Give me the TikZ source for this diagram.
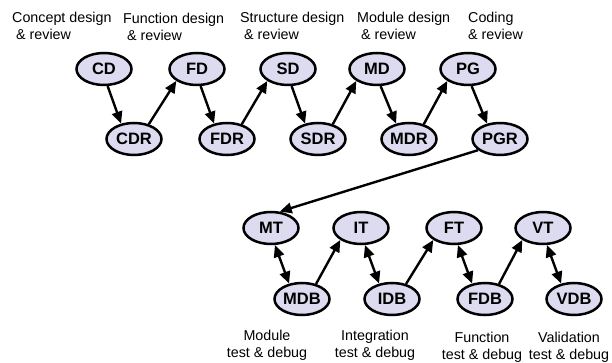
\documentclass[tikz,border=0pt]{standalone}
\usepackage{fontspec}
\setmainfont{Liberation Sans}
\usetikzlibrary{shapes.geometric,arrows.meta}
\definecolor{nodefill}{RGB}{221,219,240}
\begin{document}
\begin{tikzpicture}[x=1pt,y=-1pt,
  st/.style={ellipse,draw=black,fill=nodefill,line width=2.5pt,minimum width=55pt,minimum height=32pt,inner sep=0pt,font=\fontsize{16.5}{18}\selectfont\bfseries},
  lbl/.style={inner sep=0pt,font=\fontsize{14.3}{16.5}\selectfont},
  arr/.style={line width=2.4pt,-{Triangle[length=12pt,width=10.5pt]}},
  darr/.style={line width=2.4pt,{Triangle[length=12pt,width=10.5pt]}-{Triangle[length=12pt,width=10.5pt]}}]
\useasboundingbox (0,0) rectangle (612,363);
% top row
\node[st] (CD) at (104,69) {CD};
\node[st] (FD) at (197,69) {FD};
\node[st] (SD) at (288,69) {SD};
\node[st] (MD) at (377,69) {MD};
\node[st] (PG) at (468,69) {PG};
\node[st] (CDR) at (134,139) {CDR};
\node[st] (FDR) at (227,139) {FDR};
\node[st] (SDR) at (318,139) {SDR};
\node[st] (MDR) at (409,139) {MDR};
\node[st] (PGR) at (500,139) {PGR};
% bottom rows
\node[st] (MT) at (271,228) {MT};
\node[st] (IT) at (361,228) {IT};
\node[st] (FT) at (454,228) {FT};
\node[st] (VT) at (543,228) {VT};
\node[st] (MDB) at (302,299) {MDB};
\node[st] (IDB) at (392,299) {IDB};
\node[st] (FDB) at (485,299) {FDB};
\node[st] (VDB) at (574,299) {VDB};
% labels top
\node[lbl,anchor=north west,align=left] (lCD) at (12,12) {Concept design\\\hspace*{4pt}\& review};
\node[lbl,anchor=north west,align=left] (lFD) at (123,13) {Function design\\\hspace*{4pt}\& review};
\node[lbl,anchor=north west,align=left] (lSD) at (240,12) {Structure design\\\hspace*{4pt}\& review};
\node[lbl,anchor=north west,align=left] (lMD) at (357,12) {Module design\\\hspace*{4pt}\& review};
\node[lbl,anchor=north west,align=left] (lPG) at (468,12) {Coding\\\& review};
% labels bottom
\node[lbl,anchor=north,align=center] (lMT) at (267,330) {Module\\test \& debug};
\node[lbl,anchor=north,align=center] (lIT) at (375,330) {Integration\\test \& debug};
\node[lbl,anchor=north,align=center] (lFT) at (482,332) {Function\\test \& debug};
\node[lbl,anchor=north,align=center] (lVT) at (569,332) {Validation\\test \& debug};
% connectors
\draw[arr] (CD.-78) -- (CDR.130);
\draw[arr] (CDR.45) -- (FD.210);
\draw[arr] (FD.-78) -- (FDR.130);
\draw[arr] (FDR.45) -- (SD.210);
\draw[arr] (SD.-78) -- (SDR.130);
\draw[arr] (SDR.45) -- (MD.210);
\draw[arr] (MD.-78) -- (MDR.130);
\draw[arr] (MDR.45) -- (PG.210);
\draw[arr] (PG.-78) -- (PGR.130);
\draw[arr] (PGR.207) -- (MT.62);
\draw[darr] (MT.-77) -- (MDB.130);
\draw[arr] (MDB.47) -- (IT.210);
\draw[darr] (IT.-77) -- (IDB.130);
\draw[arr] (IDB.47) -- (FT.210);
\draw[darr] (FT.-77) -- (FDB.130);
\draw[arr] (FDB.47) -- (VT.210);
\draw[darr] (VT.-77) -- (VDB.130);
\end{tikzpicture}
\end{document}
